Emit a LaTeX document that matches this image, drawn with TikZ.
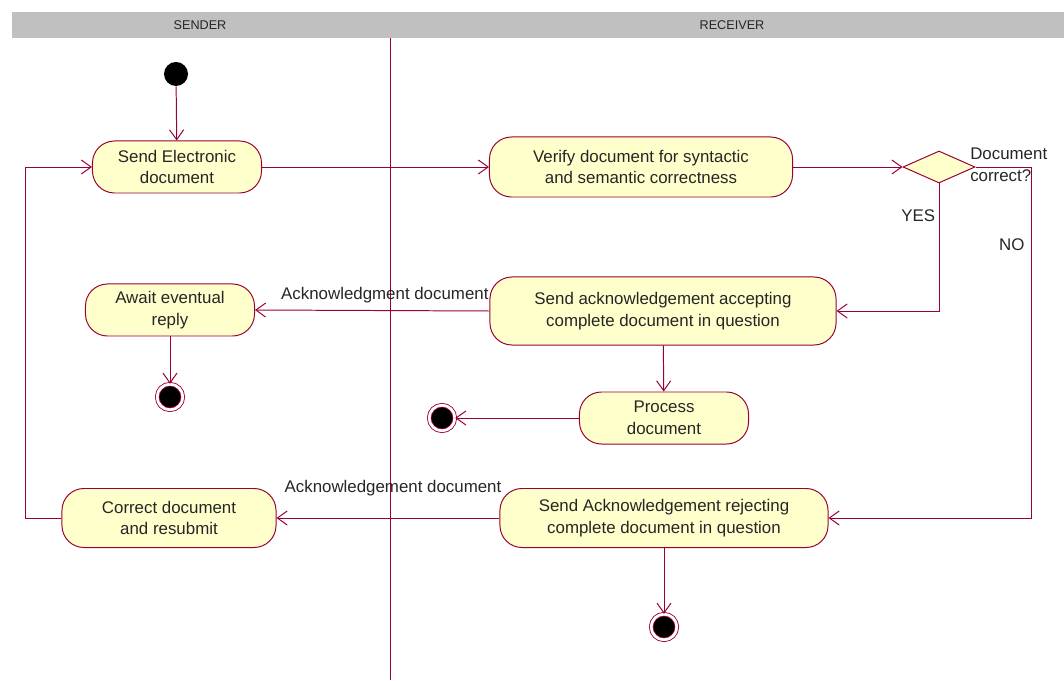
\documentclass[tikz,border=0pt]{standalone}
\usepackage{fontspec}
\setmainfont{Liberation Sans}
\usetikzlibrary{shapes.geometric,arrows.meta}
\definecolor{rosered}{HTML}{990033}
\definecolor{actfill}{HTML}{FFFFCC}
\definecolor{headgray}{HTML}{C0C0C0}
\tikzset{
  activity/.style={draw=rosered, fill=actfill, line width=0.7pt, rounded corners=0.55cm,
    align=center, inner sep=2pt, text=black!85, font=\fontsize{12}{15.5}\selectfont},
  decision/.style={diamond, draw=rosered, fill=actfill, line width=0.7pt, inner sep=0pt,
    minimum width=1.8cm, minimum height=0.8cm},
  initial/.style={circle, fill=black, inner sep=0pt, minimum size=0.6cm},
  final/.style={circle, fill=black, draw=rosered, line width=0.6pt, double=white,
    double distance=2pt, inner sep=0pt, minimum size=0.64cm},
  flow/.style={draw=rosered, line width=0.7pt, -{Straight Barb[length=7pt,width=10pt]}},
  guard/.style={text=black!85, font=\fontsize{12}{15.5}\selectfont},
  lanehead/.style={text=black!85, font=\fontsize{9}{11}\selectfont}
}
\begin{document}
\begin{tikzpicture}[x=0.025cm, y=-0.025cm]
    \useasboundingbox (0,0) rectangle (1064,681);
    % swimlanes
    \fill[headgray] (12,12) rectangle (1064,38);
    \node[lanehead] (senderLane) at (200,25) {SENDER};
    \node[lanehead] (receiverLane) at (732,25) {RECEIVER};
    \draw[rosered, line width=0.7pt] (390,38) -- (390,680);
    % activities
    \node[initial] (start) at (176,74) {};
    \node[activity, minimum width=4.225cm, minimum height=1.3cm] (send) at (177,167) {Send Electronic\\document};
    \node[activity, minimum width=7.575cm, minimum height=1.5cm] (verify) at (641,167) {Verify document for syntactic\\and semantic correctness};
    \node[decision] (check) at (939,167) {};
    \node[guard, anchor=north west, align=left, inner sep=0pt] (checkLabel) at (970,148) {Document\\correct?};
    \node[activity, minimum width=8.65cm, minimum height=1.7cm] (accept) at (663,311) {Send acknowledgement accepting\\complete document in question};
    \node[activity, minimum width=4.225cm, minimum height=1.3cm] (await) at (170,310) {Await eventual\\reply};
    \node[final] (awaitEnd) at (170,397) {};
    \node[activity, minimum width=4.225cm, minimum height=1.3cm] (process) at (664,418) {Process\\document};
    \node[final] (processEnd) at (442,418) {};
    \node[activity, minimum width=8.2cm, minimum height=1.475cm] (reject) at (664,518) {Send Acknowledgement rejecting\\complete document in question};
    \node[activity, minimum width=5.35cm, minimum height=1.475cm] (correct) at (169,518) {Correct document\\and resubmit};
    \node[final] (rejectEnd) at (664,627) {};
    \coordinate (noTurn) at (1031,167);
    \coordinate (backTurn) at (25,518);
    % transitions
    \draw[flow] (start) -- (send);
    \draw[flow] (send) -- (verify);
    \draw[flow] (verify) -- (check);
    \draw[flow] (check.south) |- node[guard, pos=0.125, left, xshift=1pt] {YES} (accept.east);
    \draw[flow] (check.east) -- (noTurn) |- node[guard, pos=0.11, left, xshift=-1pt] {NO} (reject.east);
    \draw[flow] (accept.west) -- node[guard, pos=0, anchor=south east, yshift=2pt, xshift=3pt] {Acknowledgment document} (await.east);
    \draw[flow] (await) -- (awaitEnd);
    \draw[flow] (accept) -- (process);
    \draw[flow] (process) -- (processEnd);
    \draw[flow] (reject.west) -- node[guard, pos=0, anchor=south east, yshift=12pt, xshift=5pt] {Acknowledgement document} (correct.east);
    \draw[flow] (reject) -- (rejectEnd);
    \draw[flow] (correct.west) -- (backTurn) |- (send.west);
\end{tikzpicture}
\end{document}
